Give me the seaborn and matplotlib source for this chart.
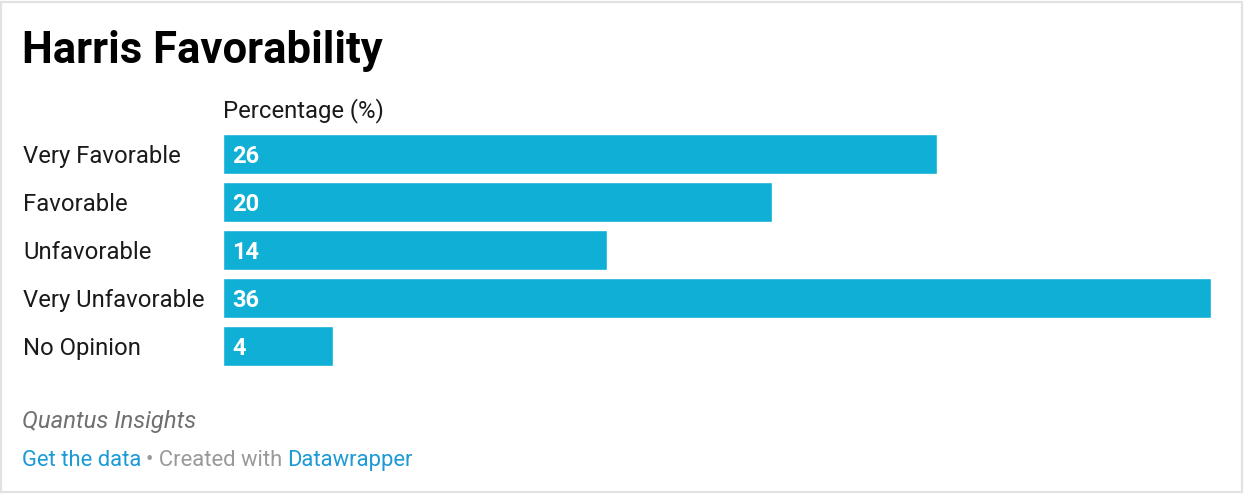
import numpy as np
import pandas as pd
import matplotlib
matplotlib.use("Agg")
import matplotlib.pyplot as plt
from matplotlib.patches import Rectangle
import seaborn as sns

# Data
categories = ["Very Favorable", "Favorable", "Unfavorable", "Very Unfavorable", "No Opinion"]
percentages = [26, 20, 14, 36, 4]

BAR_COLOR = "#0fafd6"
W, H = 1244, 494


def px(x, y):
    """pixel coords (from top-left) -> figure fraction"""
    return x / W, 1 - y / H


sns.set_theme(style="white")
plt.rcParams["font.family"] = ["Roboto", "DejaVu Sans"]

df = pd.DataFrame({"Response": categories, "Percentage": percentages})

fig = plt.figure(figsize=(W / 100, H / 100), dpi=100)
fig.patch.set_facecolor("white")

# axes: bars start at x=223, 36 ends at x=1211; rows 130..370
left, top = px(223, 130)
right, bottom = px(1211, 370)
ax = fig.add_axes([left, bottom, right - left, top - bottom])

sns.barplot(data=df, x="Percentage", y="Response", color=BAR_COLOR,
            saturation=1, width=0.83, ax=ax, orient="h")
ax.set_xlim(0, 36)
ax.set_ylim(4.5, -0.5)
for s in ax.spines.values():
    s.set_visible(False)
ax.set_xticks([])
ax.set_xlabel("")
ax.set_ylabel("")
ax.tick_params(axis="y", length=0, pad=200 * 72 / 100, labelsize=17.2, labelcolor="#1a1a1a")
for lab in ax.get_yticklabels():
    lab.set_horizontalalignment("left")

# value labels inside bars
for i, v in enumerate(percentages):
    ax.annotate(str(v), xy=(0, i), xytext=(9, 0), textcoords="offset pixels",
                va="center_baseline", ha="left", color="white", fontsize=17,
                fontweight="bold")

# header / axis title
fig.text(*px(22, 63), "Harris Favorability", fontsize=31.4, fontweight="bold",
         color="black", va="baseline", ha="left")
fig.text(*px(223, 117), "Percentage (%)", fontsize=17.2, color="#1a1a1a",
         va="baseline", ha="left")

# footer
fig.text(*px(22, 428), "Quantus Insights", fontsize=17.2, style="italic",
         color="#707070", va="baseline", ha="left")
fig.text(*px(22, 466), "Get the data", fontsize=15.8, color="#1c9ad6",
         va="baseline", ha="left")
fig.text(*px(146, 466), "\u2022 Created with", fontsize=15.8, color="#999999",
         va="baseline", ha="left")
fig.text(*px(287, 466), "Datawrapper", fontsize=15.8, color="#1c9ad6",
         va="baseline", ha="left")

# light frame around the graphic
x0, y1 = px(1, 2)
x1, y0 = px(1242, 492)
fig.patches.append(Rectangle((x0, y0), x1 - x0, y1 - y0, transform=fig.transFigure,
                             fill=False, edgecolor="#e2e2e2", linewidth=1.6))

fig.savefig("out.png", dpi=100)
